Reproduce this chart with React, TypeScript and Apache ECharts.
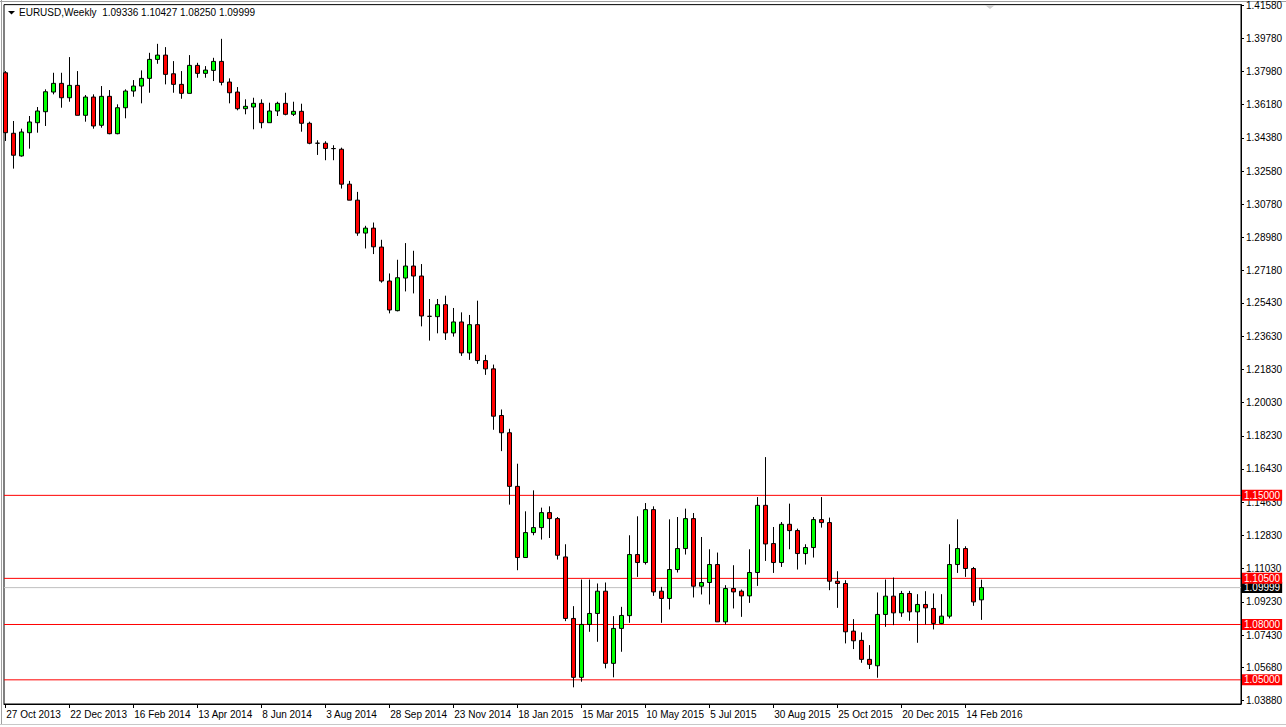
import React, { useEffect, useRef } from "react";
import * as echarts from "echarts";

const symbolTitle = "EURUSD,Weekly  1.09336 1.10427 1.08250 1.09999";

const dateLabels = [
  "27 Oct 2013", "22 Dec 2013", "16 Feb 2014", "13 Apr 2014", "8 Jun 2014", "3 Aug 2014",
  "28 Sep 2014", "23 Nov 2014", "18 Jan 2015", "15 Mar 2015", "10 May 2015", "5 Jul 2015",
  "30 Aug 2015", "25 Oct 2015", "20 Dec 2015", "14 Feb 2016",
];
const dateTickIndex = [0, 8, 16, 24, 32, 40, 48, 56, 64, 72, 80, 88, 96, 104, 112, 120];

const priceTicks = [
  1.4158, 1.3978, 1.3798, 1.3618, 1.3438, 1.3258, 1.3078, 1.2898, 1.2718, 1.2543, 1.2363,
  1.2183, 1.2003, 1.1823, 1.1643, 1.1463, 1.1283, 1.1103, 1.0923, 1.0743, 1.0568, 1.0388,
];

const levels = [1.15, 1.105, 1.08, 1.05];
const lastPrice = 1.09999;

const X_MIN = -0.16;
const X_MAX = 154.46;

const opens = [
  1.37906, 1.34627, 1.33398, 1.34659, 1.35200, 1.35796, 1.36862, 1.37333, 1.36553, 1.37224,
  1.35601, 1.36591, 1.35060, 1.36629, 1.34605, 1.36012, 1.36916, 1.37186, 1.37603, 1.38631,
  1.38864, 1.37852, 1.37278, 1.36791, 1.38307, 1.37874, 1.38036, 1.38523, 1.37403, 1.36862,
  1.35958, 1.36050, 1.36250, 1.35200, 1.35834, 1.36250, 1.35655, 1.35817, 1.35168, 1.34090,
  1.34086, 1.33800, 1.33761, 1.31867, 1.31001, 1.29216, 1.29486, 1.28458, 1.26618, 1.25011,
  1.26780, 1.27430, 1.26889, 1.24706, 1.24686, 1.25336, 1.23804, 1.24399, 1.22722, 1.24253,
  1.22305, 1.21856, 1.19329, 1.18393, 1.15487, 1.11629, 1.12982, 1.13252, 1.14064, 1.13739,
  1.11661, 1.08328, 1.05135, 1.08003, 1.08598, 1.09805, 1.05893, 1.07787, 1.08479, 1.11791,
  1.11358, 1.14226, 1.09805, 1.09410, 1.10979, 1.12116, 1.13739, 1.10076, 1.10276, 1.11250,
  1.08144, 1.09951, 1.09805, 1.09551, 1.10817, 1.14459, 1.12386, 1.11358, 1.13431, 1.13090,
  1.11845, 1.12170, 1.13685, 1.13523, 1.10346, 1.10222, 1.07641, 1.07137, 1.06109, 1.05763,
  1.08544, 1.09535, 1.08631, 1.09681, 1.08685, 1.09086, 1.08869, 1.08057, 1.08452, 1.11250,
  1.12116, 1.11034, 1.09336,
];
const highs = [
  1.37998, 1.35292, 1.34876, 1.35563, 1.36050, 1.37008, 1.37906, 1.37906, 1.38756, 1.37998,
  1.36699, 1.36737, 1.37186, 1.36970, 1.36196, 1.37008, 1.37511, 1.38036, 1.38988, 1.39475,
  1.39297, 1.38539, 1.37998, 1.38864, 1.38447, 1.38269, 1.38718, 1.39746, 1.37603, 1.37132,
  1.36467, 1.36553, 1.36467, 1.36283, 1.36337, 1.36824, 1.36337, 1.36229, 1.35255, 1.34248,
  1.34194, 1.33977, 1.33848, 1.32046, 1.31450, 1.29611, 1.29789, 1.28853, 1.27029, 1.27771,
  1.28674, 1.28258, 1.27538, 1.25644, 1.25644, 1.25823, 1.25157, 1.24919, 1.24778, 1.25552,
  1.22614, 1.22089, 1.19654, 1.18609, 1.16715, 1.14134, 1.15271, 1.14334, 1.14405, 1.13826,
  1.12349, 1.08994, 1.10438, 1.10438, 1.10222, 1.10276, 1.08452, 1.08956, 1.12836, 1.13864,
  1.14583, 1.14405, 1.10038, 1.13701, 1.13826, 1.14280, 1.14042, 1.12743, 1.12078, 1.11899,
  1.10130, 1.11212, 1.09897, 1.12078, 1.14908, 1.17073, 1.13285, 1.13555, 1.14551, 1.13198,
  1.12349, 1.13826, 1.14908, 1.13793, 1.10887, 1.10400, 1.08290, 1.07570, 1.06883, 1.09735,
  1.10438, 1.10546, 1.09821, 1.09821, 1.09643, 1.09805, 1.09681, 1.09643, 1.12349, 1.13701,
  1.12240, 1.11120, 1.10427,
];
const lows = [
  1.34210, 1.32711, 1.33361, 1.33793, 1.34659, 1.35022, 1.36737, 1.36012, 1.36337, 1.35601,
  1.35255, 1.34876, 1.34930, 1.34573, 1.34573, 1.35439, 1.36607, 1.36250, 1.36824, 1.38393,
  1.37278, 1.36824, 1.36499, 1.36791, 1.37636, 1.37636, 1.37457, 1.37224, 1.36250, 1.35871,
  1.35655, 1.34843, 1.34897, 1.35200, 1.35563, 1.35601, 1.35563, 1.34713, 1.34032, 1.33453,
  1.33166, 1.33166, 1.31629, 1.31001, 1.29069, 1.28382, 1.28079, 1.26526, 1.24865, 1.24973,
  1.26055, 1.25947, 1.24161, 1.23388, 1.23783, 1.23425, 1.23604, 1.22560, 1.22343, 1.22127,
  1.21531, 1.18555, 1.17397, 1.14497, 1.10942, 1.11629, 1.12836, 1.12603, 1.12689, 1.11520,
  1.08182, 1.04594, 1.04897, 1.07603, 1.07062, 1.05622, 1.05135, 1.06521, 1.08090, 1.10579,
  1.11250, 1.09551, 1.08090, 1.08815, 1.10817, 1.11791, 1.09464, 1.09627, 1.09086, 1.08144,
  1.08003, 1.08869, 1.08414, 1.09172, 1.10092, 1.11445, 1.10795, 1.11120, 1.12078, 1.10979,
  1.11250, 1.11629, 1.13252, 1.09859, 1.08901, 1.06975, 1.06667, 1.05925, 1.05584, 1.05114,
  1.07873, 1.07965, 1.08414, 1.08198, 1.07008, 1.08003, 1.07733, 1.08019, 1.08328, 1.10795,
  1.10579, 1.09010, 1.08250,
];
const closes = [
  1.34659, 1.33436, 1.34697, 1.35238, 1.35834, 1.36878, 1.37333, 1.36553, 1.37224, 1.35601,
  1.36591, 1.35022, 1.36629, 1.34605, 1.36012, 1.36916, 1.37186, 1.37603, 1.38631, 1.38864,
  1.37820, 1.37278, 1.36791, 1.38307, 1.37874, 1.38052, 1.38523, 1.37387, 1.36824, 1.35958,
  1.36088, 1.36250, 1.35200, 1.35834, 1.36250, 1.35655, 1.35817, 1.35168, 1.34086, 1.34086,
  1.33804, 1.33793, 1.31867, 1.31001, 1.29216, 1.29486, 1.28474, 1.26618, 1.25049, 1.26797,
  1.27430, 1.26889, 1.24724, 1.24702, 1.25336, 1.23804, 1.24399, 1.22722, 1.24253, 1.22305,
  1.21856, 1.19291, 1.18393, 1.15487, 1.11629, 1.12982, 1.13252, 1.14064, 1.13739, 1.11753,
  1.08328, 1.05135, 1.08003, 1.08598, 1.09805, 1.05893, 1.07787, 1.08490, 1.11791, 1.11358,
  1.14226, 1.09767, 1.09410, 1.10979, 1.12116, 1.13739, 1.10076, 1.10276, 1.11250, 1.08144,
  1.09951, 1.09767, 1.09551, 1.10817, 1.14459, 1.12365, 1.11358, 1.13431, 1.13090, 1.11845,
  1.12170, 1.13685, 1.13523, 1.10346, 1.10222, 1.07603, 1.07116, 1.06109, 1.05839, 1.08544,
  1.09535, 1.08631, 1.09681, 1.08685, 1.09086, 1.08902, 1.08057, 1.08452, 1.11250, 1.12116,
  1.11034, 1.09226, 1.09999,
];

const FONT = "'Liberation Sans', Arial, sans-serif";

function levelSeries(value: number, lineColor: string, boxColor: string) {
  return {
    type: "line",
    z: 1,
    silent: true,
    clip: false,
    symbol: "none",
    showSymbol: false,
    color: lineColor,
    itemStyle: { color: lineColor },
    lineStyle: { color: lineColor, width: 1, type: "solid", opacity: 1 },
    emphasis: { disabled: true },
    data: [
      [X_MIN, value],
      [X_MAX, value],
    ],
    endLabel: {
      show: true,
      distance: 1,
      formatter: () => value.toFixed(5),
      fontSize: 10,
      fontFamily: FONT,
      lineHeight: 10,
      padding: [1, 2, 0, 2],
      color: "#ffffff",
      backgroundColor: boxColor,
    },
  };
}

export default function App() {
  const ref = useRef<HTMLDivElement>(null);

  useEffect(() => {
    const chart = echarts.init(ref.current as HTMLDivElement, null, { renderer: "svg" });
    const candles = opens.map((o, i) => [i, o, closes[i], lows[i], highs[i]]);

    chart.setOption({
      animation: false,
      backgroundColor: "#ffffff",
      textStyle: { fontFamily: FONT },
      title: {
        text: symbolTitle,
        left: 19,
        top: 7,
        padding: 0,
        textStyle: { fontSize: 10, fontWeight: "normal", color: "#000000", fontFamily: FONT },
      },
      graphic: [
        { type: "line", shape: { x1: 0, y1: 1.5, x2: 1286, y2: 1.5 }, style: { stroke: "#a0a0a0", lineWidth: 1 } },
        { type: "line", shape: { x1: 1.5, y1: 0, x2: 1.5, y2: 724 }, style: { stroke: "#a0a0a0", lineWidth: 1 } },
        { type: "line", shape: { x1: 0, y1: 724.5, x2: 1286, y2: 724.5 }, style: { stroke: "#c8c8c8", lineWidth: 1 } },
        { type: "polygon", shape: { points: [[8, 11], [15, 11], [11.5, 14.5]] }, style: { fill: "#000000" } },
        { type: "polygon", shape: { points: [[985, 5], [995, 5], [990, 9]] }, style: { fill: "#d0d0d0" } },
      ],
      grid: {
        left: 4,
        top: 4,
        right: 45,
        bottom: 23,
        show: true,
        borderColor: "#000000",
        borderWidth: 1,
        backgroundColor: "#ffffff",
      },
      xAxis: {
        type: "value",
        min: X_MIN,
        max: X_MAX,
        splitLine: { show: false },
        axisLine: { show: true, onZero: false, lineStyle: { color: "#000000" } },
        axisTick: { show: true, length: 4, customValues: dateTickIndex, lineStyle: { color: "#000000" } },
        axisLabel: {
          customValues: dateTickIndex,
          formatter: (v: number) => dateLabels[Math.round(v / 8)] || "",
          align: "left",
          margin: 5,
          padding: [0, 0, 0, 1],
          fontSize: 10,
          color: "#000000",
          fontFamily: FONT,
        },
      },
      yAxis: {
        type: "value",
        position: "right",
        min: 1.0369,
        max: 1.416,
        splitLine: { show: false },
        axisLine: { show: true, onZero: false, lineStyle: { color: "#000000" } },
        axisTick: { show: true, length: 3, customValues: priceTicks, lineStyle: { color: "#000000" } },
        axisLabel: {
          customValues: priceTicks,
          formatter: (v: number) => v.toFixed(5),
          margin: 5,
          fontSize: 10,
          color: "#000000",
          fontFamily: FONT,
        },
      },
      series: [
        levelSeries(lastPrice, "#c0c0c0", "#000000"),
        ...levels.map((v) => levelSeries(v, "#ff0000", "#ff0000")),
        {
          type: "candlestick",
          z: 2,
          data: candles,
          dimensions: ["idx", "open", "close", "lowest", "highest"],
          encode: { x: "idx", y: ["open", "close", "lowest", "highest"] },
          barWidth: 5,
          itemStyle: {
            color: "#00ff00",
            color0: "#ff0000",
            borderColor: "#000000",
            borderColor0: "#000000",
            borderColorDoji: "#000000",
            borderWidth: 1,
          },
        },
      ],
    });

    return () => chart.dispose();
  }, []);

  return (
    <div
      ref={ref}
      style={{ position: "fixed", left: 0, top: 0, width: 1286, height: 727, background: "#ffffff" }}
    />
  );
}
